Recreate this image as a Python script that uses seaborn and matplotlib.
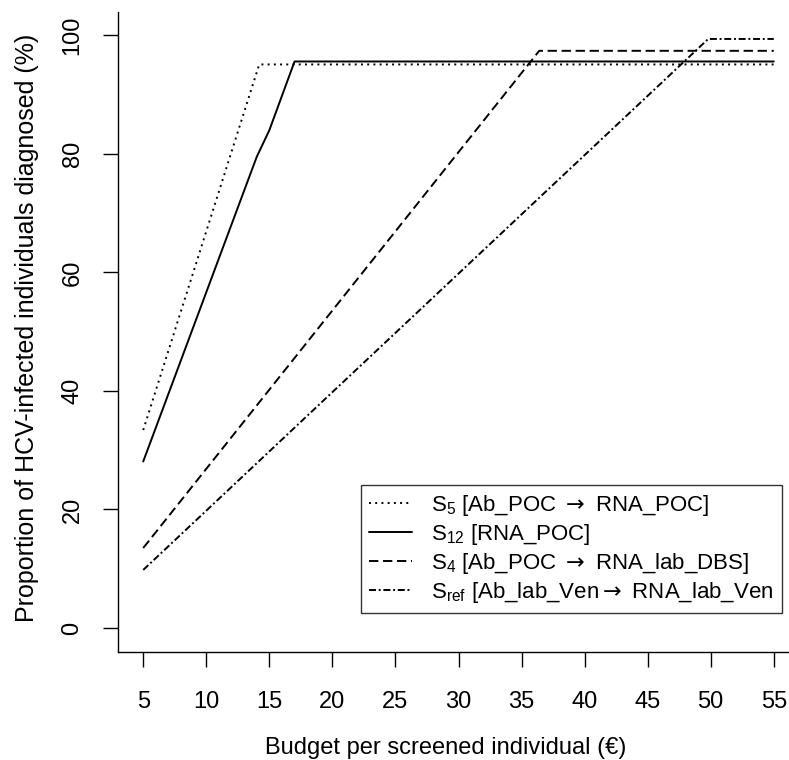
import pandas as pd
import matplotlib.pyplot as plt
import seaborn as sns

sns.set_style("ticks")
plt.rcParams['font.family'] = ['Liberation Sans', 'DejaVu Sans']
plt.rcParams['text.color'] = 'black'
plt.rcParams['axes.labelcolor'] = 'black'

# Datos (presupuesto en €, % diagnosticados)
budget_s5 = [5, 14.2, 55]
diag_s5 = [33.4, 95.1, 95.1]

budget_s12 = [5, 14, 15, 17, 55]
diag_s12 = [28.1, 79.5, 84.0, 95.6, 95.6]

budget_s4 = [5, 36.4, 55]
diag_s4 = [13.5, 97.4, 97.4]

budget_sref = [5, 49.8, 55]
diag_sref = [9.8, 99.4, 99.4]

etiquetas = [
    r"S$_\mathregular{5}$ [Ab_POC $\rightarrow$ RNA_POC]",
    r"S$_\mathregular{12}$ [RNA_POC]",
    r"S$_\mathregular{4}$ [Ab_POC $\rightarrow$ RNA_lab_DBS]",
    r"S$_\mathregular{ref}$ [Ab_lab_Ven$\rightarrow$ RNA_lab_Ven",
]
x_ticks = [5, 10, 15, 20, 25, 30, 35, 40, 45, 50, 55]
y_ticks = [0, 20, 40, 60, 80, 100]

series = [(budget_s5, diag_s5), (budget_s12, diag_s12),
          (budget_s4, diag_s4), (budget_sref, diag_sref)]
df = pd.concat(
    [pd.DataFrame({"Budget": b, "Diag": d, "Escenario": e})
     for (b, d), e in zip(series, etiquetas)],
    ignore_index=True)

trazos = {
    etiquetas[0]: (1, 2.2),
    etiquetas[1]: "",
    etiquetas[2]: (4.8, 2.4),
    etiquetas[3]: (3.6, 1.4, 1, 1.4),
}

W, H = 789, 760
x0, x1, y0, y1 = 118, 799, 11.7, 651.7
fig = plt.figure(figsize=(W / 100, H / 100), dpi=100)
ax = fig.add_axes([x0 / W, 1 - y1 / H, (x1 - x0) / W, (y1 - y0) / H])

sns.lineplot(data=df, x="Budget", y="Diag", style="Escenario",
             dashes=trazos, color="black", linewidth=1.4,
             sort=False, estimator=None, legend=False, ax=ax)

ax.set_xlim(3, 57)
ax.set_ylim(-4, 104)
ax.set_xticks(x_ticks)
ax.set_yticks(y_ticks)
ax.tick_params(axis="both", length=10.8, width=1.0, labelsize=17, colors="black")
ax.tick_params(axis="x", pad=17.5)
ax.tick_params(axis="y", pad=14)
for lab in ax.get_yticklabels():
    lab.set_rotation(90)
    lab.set_va("center")

ax.set_xlabel("Budget per screened individual (€)", fontsize=17)
ax.set_ylabel("Proportion of HCV-infected individuals diagnosed (%)", fontsize=18)
# posiciones de las etiquetas de los ejes (centro x=446, centro y=328)
ax.xaxis.set_label_coords((446 - x0) / (x1 - x0), -(759 - y1) / (y1 - y0))
ax.xaxis.label.set_va("bottom")
ax.yaxis.set_label_coords(-(x0 - 39) / (x1 - x0), (y1 - 328) / (y1 - y0))

sns.despine(ax=ax)
for s in ["left", "bottom"]:
    ax.spines[s].set_linewidth(1.0)
    ax.spines[s].set_color("black")

leg = ax.legend(ax.lines, etiquetas, loc="upper left",
                bbox_to_anchor=(361 / W, 1 - 485 / H), bbox_transform=fig.transFigure,
                borderaxespad=0, fontsize=16, frameon=True, fancybox=False,
                edgecolor="black", handlelength=1.95, handletextpad=0.85,
                labelspacing=0.18, borderpad=0.36)
leg.get_frame().set_linewidth(1.0)

plt.savefig("out.png", dpi=100)
plt.close()
